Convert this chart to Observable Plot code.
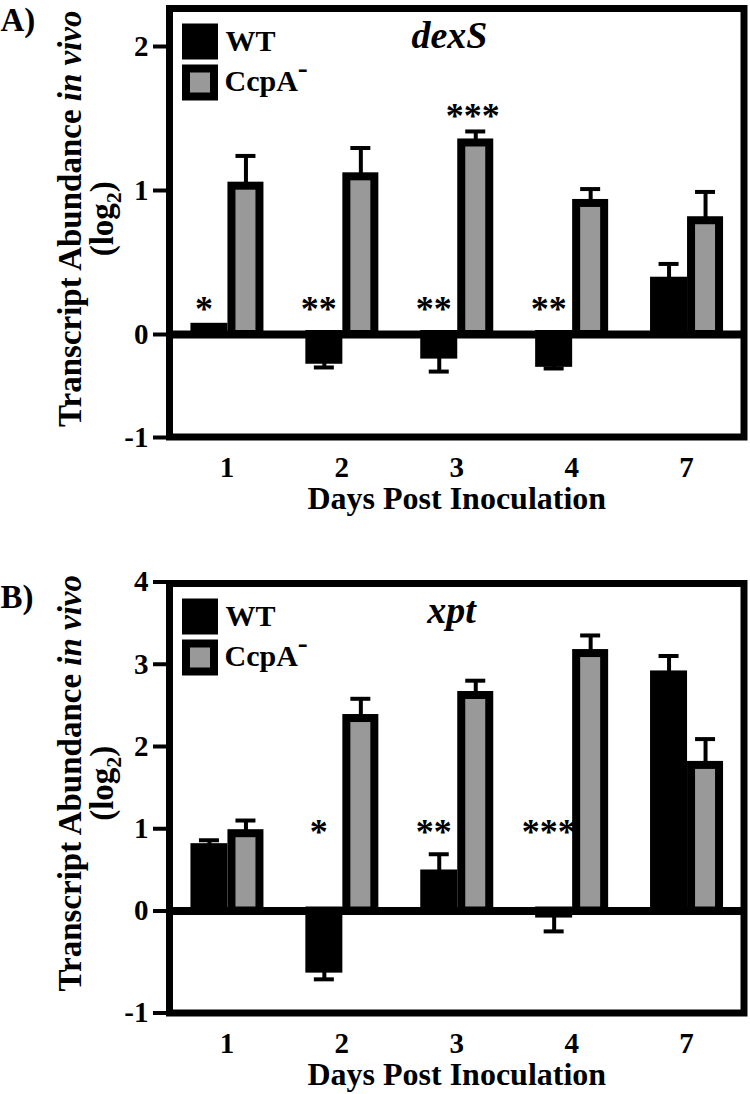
<!DOCTYPE html>
<html><head><meta charset="utf-8">
<script src="https://cdn.jsdelivr.net/npm/d3@7"></script>
<script src="https://cdn.jsdelivr.net/npm/@observablehq/plot@0.6"></script>
<style>
body{margin:0;background:#fff;}
#chart{width:750px;}
#chart svg{display:block;font-family:"Liberation Serif","Times New Roman",serif !important;font-weight:bold;}
#chart svg text{font-family:"Liberation Serif","Times New Roman",serif !important;}
</style></head><body><div id="chart"></div>
<script>
// ---- data (log2 transcript abundance, mean and SEM) ----
const days = ["1","2","3","4","7"];
const series = ["WT","CcpA-"];

const dexsWT      = [0.05, -0.25, -0.20, -0.28, 0.37];
const dexsWTErr   = [0.00,  0.07,  0.16,  0.05, 0.12];
const dexsCcpA    = [1.03,  1.095, 1.33,  0.91, 0.79];
const dexsCcpAErr = [0.21,  0.20,  0.08,  0.10, 0.20];

const xptWT       = [0.77, -0.57, 0.45, -0.03, 2.87];
const xptWTErr    = [0.09,  0.10, 0.24,  0.17, 0.23];
const xptCcpA     = [0.94,  2.34, 2.62,  3.13, 1.77];
const xptCcpAErr  = [0.16,  0.24, 0.18,  0.22, 0.32];

// significance annotations
const dexsSigDay    = ["1","2","3","4","3"];
const dexsSigSeries = ["WT","WT","WT","WT","CcpA-"];
const dexsSigText   = ["*","**","**","**","***"];
const dexsSigLevel  = [0.175,0.175,0.175,0.175,1.515];

const xptSigDay     = ["2","3","4"];
const xptSigSeries  = ["WT","WT","WT"];
const xptSigText    = ["*","**","***"];
const xptSigLevel   = [0.955,0.955,0.955];

const dexsTicks = [-1,0,1,2];
const xptTicks  = [-1,0,1,2,3,4];

// ---- layout ----
const FONT = "'Liberation Serif','Times New Roman',serif";
const W = 750, ML = 169, MR = 6.5;
const BW = (W - ML - MR) / days.length;
const half = BW / 2;
const geom = {
  "WT":    {fill:"black", barL: half-32, barR: half+3,  c: -17.5, capL: half-27.5, capR: half+7.5, sdx: -23},
  "CcpA-": {fill:"#999999", barL: half+5, barR: half-33, c: 19,   capL: half+9,    capR: half-29,  sdx: 16}
};

function table(vals, errs) {
  return days.map((d, i) => ({day: d, v: vals[i], e: errs[i], end: vals[i] + Math.sign(vals[i]) * errs[i]}));
}

function rich(svg, plain, segs) {
  for (const t of svg.querySelectorAll("text")) {
    if (t.textContent !== plain) continue;
    t.textContent = "";
    for (const s of segs) {
      const ts = document.createElementNS("http://www.w3.org/2000/svg", "tspan");
      ts.textContent = s.t;
      if (s.italic) ts.setAttribute("font-style", "italic");
      if (s.size) ts.setAttribute("font-size", s.size);
      if (s.dy) ts.setAttribute("dy", s.dy);
      t.appendChild(ts);
    }
  }
}

function panel(o) {
  const marks = [];
  const tables = {"WT": table(o.wt, o.wtErr), "CcpA-": table(o.cc, o.ccErr)};
  for (const key of series) {
    const g = geom[key], data = tables[key];
    marks.push(Plot.barY(data, {x: "day", y: "v", fill: g.fill, stroke: "black", strokeWidth: 8,
      insetLeft: g.barL, insetRight: g.barR}));
    const ed = data.filter(d => d.e > 0);
    marks.push(Plot.ruleX(ed, {x: "day", y1: "v", y2: "end", dx: g.c, stroke: "black", strokeWidth: 4}));
    marks.push(Plot.tickY(ed, {x: "day", y: "end", insetLeft: g.capL, insetRight: g.capR, stroke: "black", strokeWidth: 4}));
  }
  marks.push(Plot.ruleY([0], {stroke: "black", strokeWidth: 8}));
  // significance stars
  const sig = o.sigDay.map((d, i) => ({day: d, s: o.sigSeries[i], t: o.sigText[i], y: o.sigLevel[i]}));
  for (const key of series) {
    marks.push(Plot.text(sig.filter(d => d.s === key), {x: "day", y: "y", text: "t", dx: geom[key].sdx,
      fontSize: 36, fontWeight: "bold"}));
  }
  // axes
  marks.push(Plot.axisY({ticks: o.ticks, tickSize: 16, tickPadding: 5, strokeWidth: 4,
    tickFormat: d => String(d), fontSize: 29, label: null}));
  marks.push(Plot.axisX({tickSize: 0, tickPadding: 19, fontSize: 29, label: null}));
  marks.push(Plot.text(["Days Post Inoculation"], {frameAnchor: "bottom", dy: 62, lineAnchor: "middle",
    textAnchor: "middle", fontSize: 32}));
  marks.push(Plot.text(["Transcript Abundance in vivo"], {frameAnchor: "left", rotate: -90, dx: -89, dy: o.titleDy,
    textAnchor: "middle", lineAnchor: "bottom", fontSize: 33}));
  marks.push(Plot.text(["(log2)"], {frameAnchor: "left", rotate: -90, dx: -57, dy: o.titleDy,
    textAnchor: "middle", lineAnchor: "bottom", fontSize: 33}));
  // legend
  marks.push(Plot.dot([0], {frameAnchor: "top-left", dx: 30.5, dy: 33, symbol: "square", r: 15.8,
    fill: geom["WT"].fill, stroke: "black", strokeWidth: 8}));
  marks.push(Plot.dot([0], {frameAnchor: "top-left", dx: 30.5, dy: 74, symbol: "square", r: 15.8,
    fill: geom["CcpA-"].fill, stroke: "black", strokeWidth: 8}));
  marks.push(Plot.text(["WT"], {frameAnchor: "top-left", dx: 56, dy: 42.5, textAnchor: "start", lineAnchor: "bottom", fontSize: 30}));
  marks.push(Plot.text(["CcpA-"], {frameAnchor: "top-left", dx: 55, dy: 82, textAnchor: "start", lineAnchor: "bottom", fontSize: 30}));
  // gene name and panel tag
  marks.push(Plot.text([o.gene], {frameAnchor: "top-left", dx: o.geneDx, dy: 39, textAnchor: "middle",
    lineAnchor: "bottom", fontSize: 38, fontStyle: "italic"}));
  marks.push(Plot.text([o.tag], {frameAnchor: "top-left", dx: -ML, dy: o.tagDy, textAnchor: "start",
    lineAnchor: "bottom", fontSize: 33}));
  marks.push(Plot.frame({stroke: "black", strokeWidth: 7}));

  const svg = Plot.plot({
    width: W, height: o.height,
    marginLeft: ML, marginRight: MR, marginTop: o.mt, marginBottom: o.mb,
    x: {type: "band", domain: days, padding: 0, round: false},
    y: {type: "linear", domain: o.yDomain, range: o.yRange},
    style: {fontFamily: FONT, fontWeight: "bold", fontSize: "29px", color: "black", background: "white", overflow: "visible"},
    marks
  });
  rich(svg, "Transcript Abundance in vivo", [{t: "Transcript Abundance "}, {t: "in vivo", italic: true}]);
  rich(svg, "(log2)", [{t: "(log"}, {t: "2", size: "22px", dy: "8px"}, {t: ")", dy: "-8px"}]);
  rich(svg, "CcpA-", [{t: "CcpA"}, {t: "-", dy: "-13px"}]);
  return svg;
}

const chart = document.getElementById("chart");
chart.appendChild(panel({
  wt: dexsWT, wtErr: dexsWTErr, cc: dexsCcpA, ccErr: dexsCcpAErr,
  sigDay: dexsSigDay, sigSeries: dexsSigSeries, sigText: dexsSigText, sigLevel: dexsSigLevel,
  ticks: dexsTicks, gene: "dexS", geneDx: 280, tag: "A)", tagDy: 22, titleDy: -4,
  height: 540, mt: 8, mb: 103.5, yDomain: [-1, 0, 2], yRange: [437, 334, 46]
}));
chart.appendChild(panel({
  wt: xptWT, wtErr: xptWTErr, cc: xptCcpA, ccErr: xptCcpAErr,
  sigDay: xptSigDay, sigSeries: xptSigSeries, sigText: xptSigText, sigLevel: xptSigLevel,
  ticks: xptTicks, gene: "xpt", geneDx: 282, tag: "B)", tagDy: 24, titleDy: -15,
  height: 554, mt: 43, mb: 81.5, yDomain: [-1, 0, 4], yRange: [472.5, 370.5, 41.5]
}));
</script></body></html>
